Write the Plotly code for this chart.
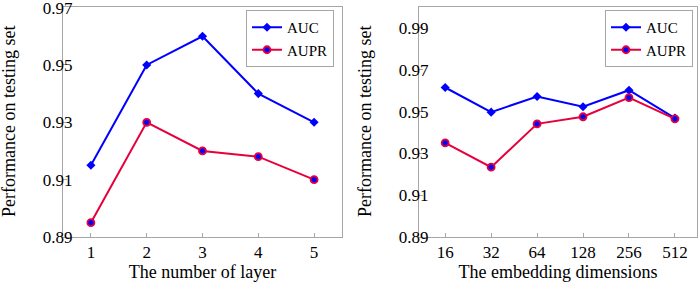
import plotly.graph_objects as go

layers = [1, 2, 3, 4, 5]
auc_layer = [0.915, 0.950, 0.960, 0.940, 0.930]
aupr_layer = [0.895, 0.930, 0.920, 0.918, 0.910]

dims = ["16", "32", "64", "128", "256", "512"]
auc_dim = [0.9615, 0.9497, 0.9572, 0.9523, 0.9602, 0.9469]
aupr_dim = [0.9350, 0.9234, 0.9441, 0.9475, 0.9567, 0.9465]

y_ticks = [0.89, 0.91, 0.93, 0.95, 0.97, 0.99]
y_title = "Performance on testing set"

BLUE = "#0000ff"
RED = "#e6003c"
GRAY = "#a6a6a6"
FONT = "Liberation Serif"

fig = go.Figure()
dim_idx = list(range(len(dims)))

fig.add_trace(go.Scatter(x=layers, y=auc_layer, name="AUC", mode="lines+markers",
                         line=dict(color=BLUE, width=2),
                         marker=dict(symbol="diamond", size=7, color=BLUE),
                         xaxis="x", yaxis="y", legend="legend"))
fig.add_trace(go.Scatter(x=layers, y=aupr_layer, name="AUPR", mode="lines+markers",
                         line=dict(color=RED, width=2),
                         marker=dict(symbol="circle", size=7, color=BLUE, line=dict(color=RED, width=1.8)),
                         xaxis="x", yaxis="y", legend="legend"))
fig.add_trace(go.Scatter(x=dim_idx, y=auc_dim, name="AUC", mode="lines+markers",
                         line=dict(color=BLUE, width=2),
                         marker=dict(symbol="diamond", size=7, color=BLUE),
                         xaxis="x2", yaxis="y2", legend="legend2"))
fig.add_trace(go.Scatter(x=dim_idx, y=aupr_dim, name="AUPR", mode="lines+markers",
                         line=dict(color=RED, width=2),
                         marker=dict(symbol="circle", size=7, color=BLUE, line=dict(color=RED, width=1.8)),
                         xaxis="x2", yaxis="y2", legend="legend2"))

W, H = 699, 282
y_dom = [1 - 237 / H, 1 - 7 / H]

axis_common = dict(showline=True, linecolor=GRAY, linewidth=1, mirror=True,
                   showgrid=False, zeroline=False, ticks="inside", ticklen=4,
                   tickcolor=GRAY, automargin=False, ticklabeloverflow="allow",
                   tickfont=dict(family=FONT, size=17, color="black"),
                   title_font=dict(family=FONT, size=18, color="black"))

fig.update_layout(
    width=W, height=H,
    margin=dict(l=0, r=0, t=0, b=0, autoexpand=False),
    paper_bgcolor="white", plot_bgcolor="white",
    font=dict(family=FONT, size=17, color="black"),
    xaxis=dict(domain=[63 / W, 342 / W], range=[0.5, 5.5], tickvals=layers,
               anchor="y", title=dict(text="The number of layer", standoff=4), **axis_common),
    yaxis=dict(domain=y_dom, range=[0.89, 0.9702], tickvals=y_ticks[:5],
               tickformat=".2f", anchor="x", ticklabelstandoff=-14, **axis_common),
    xaxis2=dict(domain=[419 / W, 697 / W], range=[-0.57, 5.48], tickvals=dim_idx,
                ticktext=dims, anchor="y2",
                title=dict(text="The embedding dimensions", standoff=4), **axis_common),
    yaxis2=dict(domain=y_dom, range=[0.89, 1.0], tickvals=y_ticks,
                tickformat=".2f", anchor="x2", ticklabelstandoff=-14, **axis_common),
    legend=dict(x=334 / W, xanchor="right", y=1 - 10 / H, yanchor="top",
                bgcolor="white", bordercolor=GRAY, borderwidth=1,
                font=dict(family=FONT, size=15), tracegroupgap=0, itemwidth=30),
    legend2=dict(x=693 / W, xanchor="right", y=1 - 10 / H, yanchor="top",
                 bgcolor="white", bordercolor=GRAY, borderwidth=1,
                 font=dict(family=FONT, size=15), tracegroupgap=0, itemwidth=30),
    showlegend=True,
)

for xc in (9, 365):
    fig.add_annotation(text=y_title, xref="paper", yref="paper",
                       x=xc / W, y=(y_dom[0] + y_dom[1]) / 2, xanchor="center", yanchor="middle",
                       textangle=-90, showarrow=False,
                       font=dict(family=FONT, size=18, color="black"))

fig.write_html("out.html", config={"displayModeBar": False},
               post_script="document.body.style.margin='0';document.body.style.overflow='hidden';")
